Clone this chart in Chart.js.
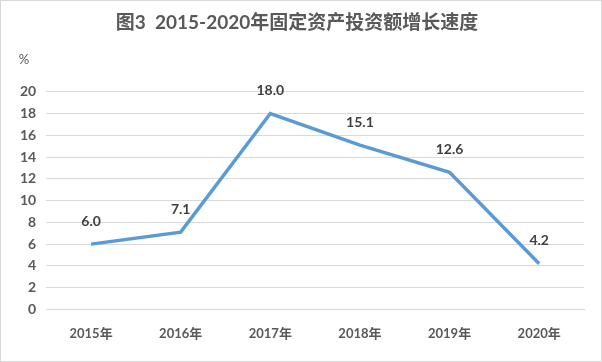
<!DOCTYPE html>
<html><head><meta charset="utf-8">
<script src="https://cdn.jsdelivr.net/npm/chart.js@4"></script>
<style>
html,body{margin:0;padding:0;background:#fff;}
#wrap{width:602px;height:362px;box-sizing:border-box;border:1px solid #d9d9d9;position:relative;}
canvas{display:block;}
</style></head><body>
<div id="wrap"><canvas id="c" width="600" height="360"></canvas></div>
<script>
const categories = ["2015年","2016年","2017年","2018年","2019年","2020年"];
const growth = [6.0, 7.1, 18.0, 15.1, 12.6, 4.2];
const titleText = "图3  2015-2020年固定资产投资额增长速度";
const unitLabel = "%";

const FONT = "Lato, 'Noto Sans CJK SC', sans-serif";
const labelPlugin = {
  id: 'labels',
  afterDatasetsDraw(chart) {
    const ctx = chart.ctx;
    const meta = chart.getDatasetMeta(0);
    ctx.save();
    ctx.font = "bold 14px " + FONT;
    ctx.fillStyle = "#404040";
    ctx.textAlign = "center";
    ctx.textBaseline = "middle";
    meta.data.forEach((pt, i) => {
      ctx.fillText(growth[i].toFixed(1), pt.x, pt.y - 23);
    });
    ctx.font = "13px " + FONT;
    ctx.fillStyle = "#595959";
    ctx.fillText(unitLabel, 23, 59);
    ctx.restore();
  }
};

new Chart(document.getElementById('c'), {
  type: 'line',
  data: {
    labels: categories,
    datasets: [{
      data: growth,
      borderColor: '#5B9BD5',
      borderWidth: 3.5,
      pointRadius: 0,
      tension: 0,
      fill: false
    }]
  },
  options: {
    responsive: false,
    animation: false,
    layout: { padding: { left: 9, right: 17, top: 0, bottom: 10 } },
    plugins: {
      legend: { display: false },
      tooltip: { enabled: false },
      title: {
        display: true,
        text: titleText,
        color: '#595959',
        font: { family: FONT, size: 19, weight: 'bold' },
        padding: { top: 10, bottom: 58 }
      }
    },
    scales: {
      x: {
        offset: true,
        grid: { display: false },
        border: { display: true, color: '#d9d9d9' },
        ticks: { color: '#595959', font: { family: FONT, size: 13, weight: 'bold' }, padding: 9 }
      },
      y: {
        min: 0, max: 20,
        ticks: { stepSize: 2, color: '#595959', font: { family: FONT, size: 14, weight: 'bold' }, padding: 10 },
        grid: { color: '#d9d9d9', drawTicks: false },
        border: { display: false }
      }
    }
  },
  plugins: [labelPlugin]
});
</script>
</body></html>
